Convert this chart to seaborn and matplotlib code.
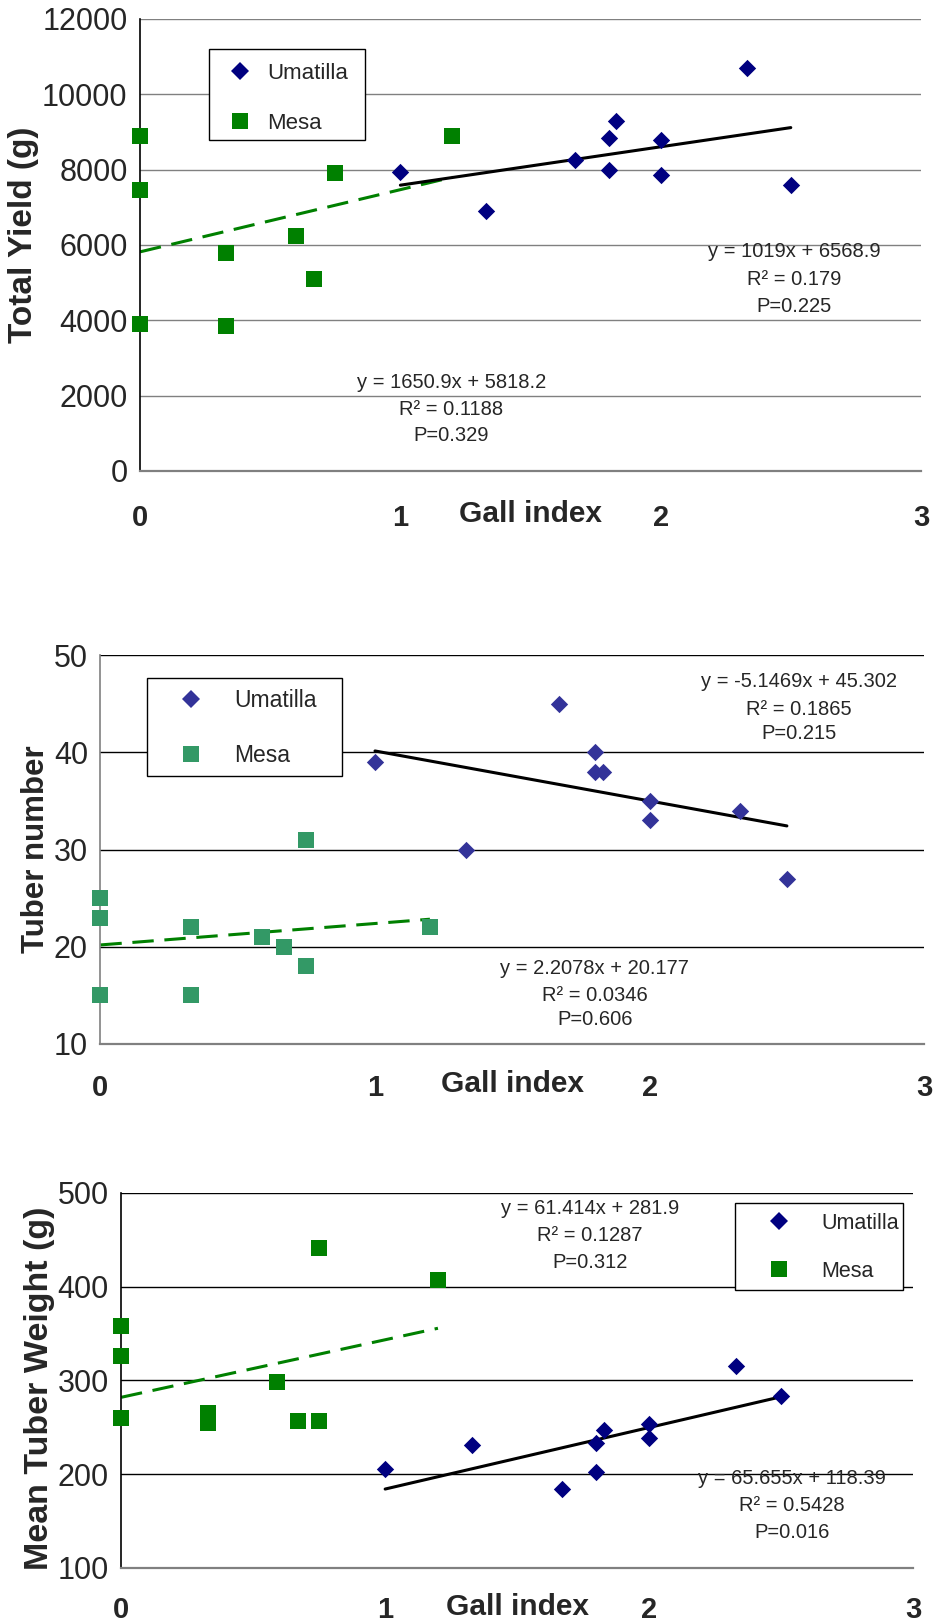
import matplotlib
matplotlib.use("Agg")
import matplotlib.pyplot as plt
import seaborn as sns
import pandas as pd
from matplotlib.lines import Line2D
from matplotlib.patches import Rectangle

# ---------------- data ----------------
cultivars = ["Umatilla", "Mesa"]
x_ticks = [0, 1, 2, 3]

yield_uma_x = [1.0, 1.33, 1.67, 1.8, 1.8, 1.83, 2.0, 2.0, 2.33, 2.5]
yield_uma_y = [7950, 6900, 8250, 8850, 8000, 9300, 8800, 7850, 10700, 7600]
yield_mesa_x = [0, 0, 0, 0.33, 0.33, 0.6, 0.67, 0.75, 1.2]
yield_mesa_y = [8900, 7450, 3900, 5800, 3850, 6250, 5100, 7900, 8900]
yield_fit_uma = [1019, 6568.9]
yield_fit_mesa = [1650.9, 5818.2]
yield_text_uma = ["y = 1019x + 6568.9", "R² = 0.179", "P=0.225"]
yield_text_mesa = ["y = 1650.9x + 5818.2", "R² = 0.1188", "P=0.329"]
yield_yticks = [0, 2000, 4000, 6000, 8000, 10000, 12000]

number_uma_x = [1.0, 1.33, 1.67, 1.8, 1.8, 1.83, 2.0, 2.0, 2.33, 2.5]
number_uma_y = [39, 30, 45, 40, 38, 38, 35, 33, 34, 27]
number_mesa_x = [0, 0, 0, 0.33, 0.33, 0.59, 0.67, 0.75, 0.75, 1.2]
number_mesa_y = [25, 23, 15, 22, 15, 21, 20, 31, 18, 22]
number_fit_uma = [-5.1469, 45.302]
number_fit_mesa = [2.2078, 20.177]
number_text_uma = ["y = -5.1469x + 45.302", "R² = 0.1865", "P=0.215"]
number_text_mesa = ["y = 2.2078x + 20.177", "R² = 0.0346", "P=0.606"]
number_yticks = [10, 20, 30, 40, 50]

weight_uma_x = [1.0, 1.33, 1.67, 1.8, 1.8, 1.83, 2.0, 2.0, 2.33, 2.5]
weight_uma_y = [205, 231, 184, 233, 202, 247, 253, 238, 315, 283]
weight_mesa_x = [0, 0, 0, 0.33, 0.33, 0.59, 0.67, 0.75, 0.75, 1.2]
weight_mesa_y = [358, 326, 260, 265, 255, 298, 257, 257, 441, 407]
weight_fit_uma = [65.655, 118.39]
weight_fit_mesa = [61.414, 281.9]
weight_text_uma = ["y = 65.655x + 118.39", "R² = 0.5428", "P=0.016"]
weight_text_mesa = ["y = 61.414x + 281.9", "R² = 0.1287", "P=0.312"]
weight_yticks = [100, 200, 300, 400, 500]

fit_range_uma = [1.0, 2.5]
fit_range_mesa = [0.0, 1.2]

# ---------------- style ----------------
sns.set_style("white")
plt.rcParams["font.family"] = ["Liberation Sans", "DejaVu Sans"]

fig = plt.figure(figsize=(9.34, 16.23), dpi=100)

panels = [
    dict(rect=[0.150, 0.7098, 0.836, 0.2785],
         ux=yield_uma_x, uy=yield_uma_y, mx=yield_mesa_x, my=yield_mesa_y,
         fu=yield_fit_uma, fm=yield_fit_mesa, yt=yield_yticks,
         ylabel="Total Yield (g)", yl_fs=24, yl_y=0.523,
         ucol="#000080", mcol="#008000",
         grid="#808080", spine="#000000",
         tu=yield_text_uma, tm=yield_text_mesa,
         tu_pos=(2.514, [5820, 5080, 4370]), tm_pos=(1.195, [2360, 1620, 930]),
         box=(0.0886, 0.7327, 0.1989, 0.2016),
         leg=dict(x=0.1055, y=0.9022, fs=16, hl=1.6, htp=0.41, ls=1.3),
         xpad=18, xl_y=-0.095),
    dict(rect=[0.1075, 0.3569, 0.882, 0.2393],
         ux=number_uma_x, uy=number_uma_y, mx=number_mesa_x, my=number_mesa_y,
         fu=number_fit_uma, fm=number_fit_mesa, yt=number_yticks,
         ylabel="Tuber number", yl_fs=22.5, yl_y=0.5,
         ucol="#333399", mcol="#339966",
         grid="#000000", spine="#808080",
         tu=number_text_uma, tm=number_text_mesa,
         tu_pos=(2.544, [47.3, 44.45, 42.0]), tm_pos=(1.80, [17.8, 15.0, 12.45]),
         box=(0.0566, 0.6882, 0.2363, 0.2531),
         leg=dict(x=0.0816, y=0.913, fs=16.5, hl=2.0, htp=0.9, ls=1.41),
         xpad=16, xl_y=-0.103),
    dict(rect=[0.1297, 0.0340, 0.848, 0.231],
         ux=weight_uma_x, uy=weight_uma_y, mx=weight_mesa_x, my=weight_mesa_y,
         fu=weight_fit_uma, fm=weight_fit_mesa, yt=weight_yticks,
         ylabel="Mean Tuber Weight (g)", yl_fs=24.5, yl_y=0.478,
         ucol="#000080", mcol="#008000",
         grid="#000000", spine="#000000",
         tu=weight_text_uma, tm=weight_text_mesa,
         tu_pos=(2.541, [195, 166.3, 137.6]), tm_pos=(1.776, [483.4, 454.7, 426]),
         box=(0.7754, 0.7405, 0.2119, 0.2318),
         leg=dict(x=0.8032, y=0.9464, fs=15.5, hl=2.0, htp=0.98, ls=1.24),
         xpad=14, xl_y=-0.105),
]

for p in panels:
    ax = fig.add_axes(p["rect"])
    ax.set_axisbelow(True)
    yt = p["yt"]
    ax.set_xlim(0, 3)
    ax.set_ylim(yt[0], yt[-1])
    for v in yt[1:]:
        ax.axhline(v, color=p["grid"], lw=1.0, zorder=0)

    # regression lines
    fu, fm = p["fu"], p["fm"]
    line_u = pd.DataFrame({"x": fit_range_uma,
                           "y": [fu[0] * x + fu[1] for x in fit_range_uma]})
    line_m = pd.DataFrame({"x": fit_range_mesa,
                           "y": [fm[0] * x + fm[1] for x in fit_range_mesa]})
    sns.lineplot(data=line_m, x="x", y="y", ax=ax, color="#008000", lw=2.2,
                 zorder=2).lines[-1].set_dashes((7, 3.5))
    sns.lineplot(data=line_u, x="x", y="y", ax=ax, color="black", lw=2.2, zorder=2)

    # scatter
    du = pd.DataFrame({"x": p["ux"], "y": p["uy"]})
    dm = pd.DataFrame({"x": p["mx"], "y": p["my"]})
    sns.scatterplot(data=dm, x="x", y="y", ax=ax, marker="s", s=135,
                    color=p["mcol"], linewidth=0, zorder=3, clip_on=False)
    sns.scatterplot(data=du, x="x", y="y", ax=ax, marker="D", s=78,
                    color=p["ucol"], linewidth=0, zorder=3, clip_on=False)

    # annotations
    for txt, yy in zip(p["tu"], p["tu_pos"][1]):
        ax.text(p["tu_pos"][0], yy, txt, ha="center", va="center", fontsize=14.5)
    for txt, yy in zip(p["tm"], p["tm_pos"][1]):
        ax.text(p["tm_pos"][0], yy, txt, ha="center", va="center", fontsize=14.5)

    # axes styling
    for s in ["top", "right"]:
        ax.spines[s].set_visible(False)
    ax.spines["left"].set_color(p["spine"])
    ax.spines["left"].set_linewidth(1.2)
    ax.spines["bottom"].set_color("#808080")
    ax.spines["bottom"].set_linewidth(1.6)
    ax.set_xticks(x_ticks)
    ax.set_xticklabels([str(t) for t in x_ticks], fontsize=21, fontweight="bold")
    ax.set_yticks(yt)
    ax.set_yticklabels([str(t) for t in yt], fontsize=22)
    ax.tick_params(axis="x", direction="out", length=6, width=1.2, color="#808080",
                   pad=p["xpad"])
    ax.tick_params(axis="y", direction="out", length=6, width=1.2, color="#808080", pad=3)
    ax.set_xlabel("Gall index", fontsize=21.5, fontweight="bold")
    ax.xaxis.label.set_va("center")
    ax.xaxis.set_label_coords(0.5, p["xl_y"])
    ax.set_ylabel(p["ylabel"], fontsize=p["yl_fs"], fontweight="bold", labelpad=2)
    ax.yaxis.label.set_y(p["yl_y"])

    # legend: frame + entries
    bx, by, bw, bh = p["box"]
    ax.add_patch(Rectangle((bx, by), bw, bh, transform=ax.transAxes,
                           facecolor="white", edgecolor="black", lw=1.0, zorder=4))
    L = p["leg"]
    handles = [
        Line2D([], [], marker="D", ls="none", color=p["ucol"], markersize=9, markeredgewidth=0),
        Line2D([], [], marker="s", ls="none", color=p["mcol"], markersize=11, markeredgewidth=0),
    ]
    leg = ax.legend(handles, cultivars, loc="upper left", bbox_to_anchor=(L["x"], L["y"]),
                    fontsize=L["fs"], frameon=False, handlelength=L["hl"],
                    handletextpad=L["htp"], labelspacing=L["ls"],
                    borderpad=0, borderaxespad=0)
    leg.set_zorder(5)

fig.savefig("out.png", dpi=100)
